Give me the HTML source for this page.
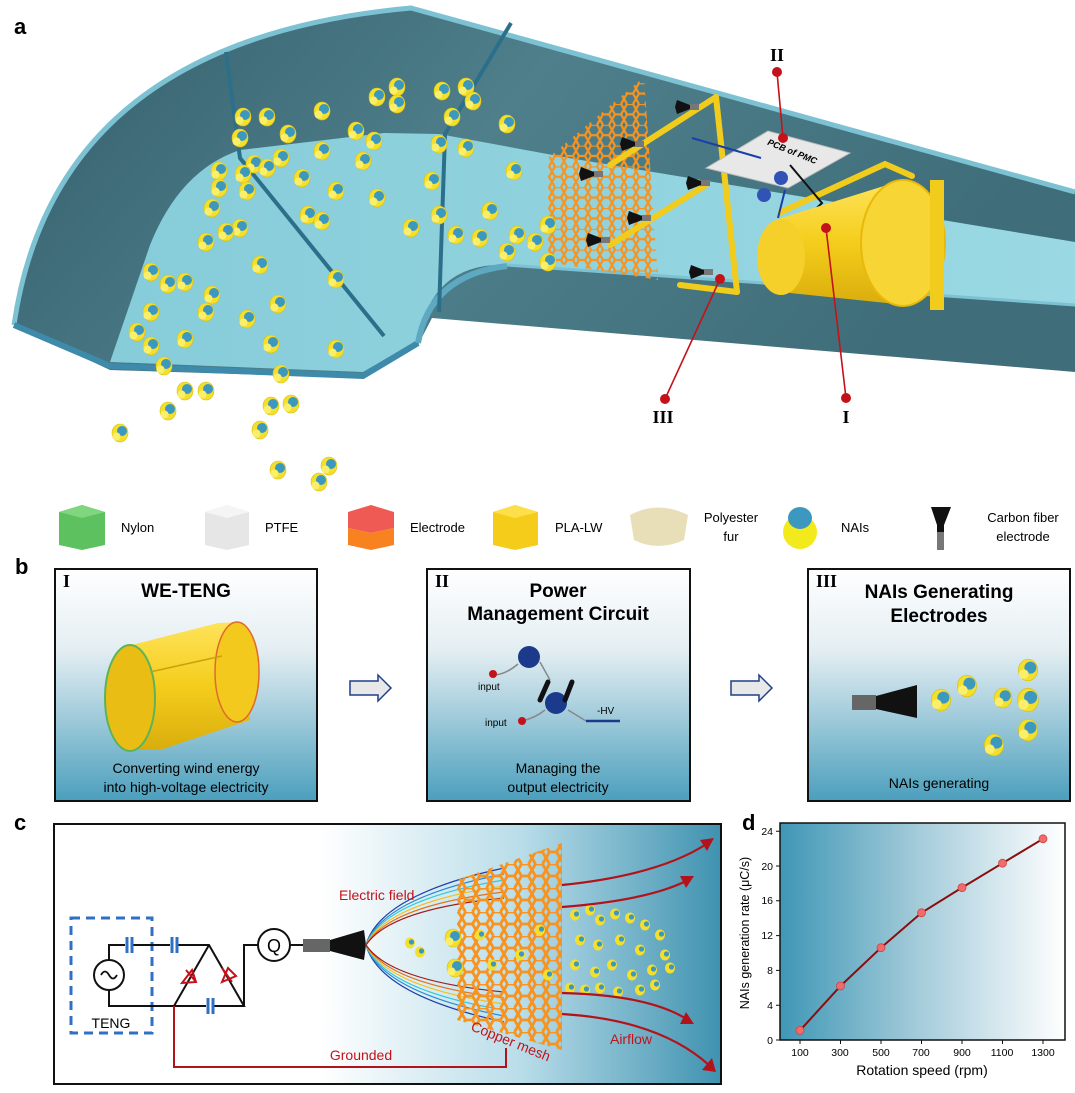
<!DOCTYPE html>
<html><head><meta charset="utf-8"><style>
html,body{margin:0;padding:0;background:#fff;}
svg{display:block;font-family:"Liberation Sans",Arial,sans-serif;}
</style></head><body>
<svg width="1075" height="1093" viewBox="0 0 1075 1093" xmlns="http://www.w3.org/2000/svg">
<defs>
<linearGradient id="wall" x1="0" y1="0" x2="1" y2="0.3"><stop offset="0" stop-color="#355f6c"/><stop offset="0.5" stop-color="#4e7f8b"/><stop offset="1" stop-color="#3f6e7a"/></linearGradient>
<linearGradient id="floor" x1="0" y1="0" x2="1" y2="0"><stop offset="0" stop-color="#86ccd9"/><stop offset="1" stop-color="#9ad9e3"/></linearGradient>
<linearGradient id="boxg" x1="0" y1="0" x2="0" y2="1"><stop offset="0" stop-color="#ffffff"/><stop offset="0.35" stop-color="#e4eef2"/><stop offset="1" stop-color="#4b9fbd"/></linearGradient>
<linearGradient id="cg" x1="0" y1="0" x2="1" y2="0"><stop offset="0" stop-color="#fff"/><stop offset="0.4" stop-color="#fff"/><stop offset="0.7" stop-color="#b9dde9"/><stop offset="1" stop-color="#3f92b0"/></linearGradient>
<linearGradient id="dg" x1="0" y1="0" x2="1" y2="0"><stop offset="0" stop-color="#3f97b6"/><stop offset="0.5" stop-color="#a7cddb"/><stop offset="1" stop-color="#ffffff"/></linearGradient>
<linearGradient id="cyl" x1="0" y1="0" x2="0" y2="1"><stop offset="0" stop-color="#ffe35a"/><stop offset="0.5" stop-color="#f4cd1c"/><stop offset="1" stop-color="#d9ad0c"/></linearGradient>
<pattern id="hex" width="12" height="20.8" patternUnits="userSpaceOnUse">
<path d="M3,0 L9,0 L12,5.2 L9,10.4 L3,10.4 L0,5.2 Z M9,10.4 L12,15.6 L9,20.8 M3,10.4 L0,15.6 L3,20.8" fill="none" stroke="#f7931e" stroke-width="2.2"/>
</pattern>
<pattern id="hex2" width="14" height="24" patternUnits="userSpaceOnUse">
<path d="M3.5,0 L10.5,0 L14,6 L10.5,12 L3.5,12 L0,6 Z M10.5,12 L14,18 L10.5,24 M3.5,12 L0,18 L3.5,24" fill="none" stroke="#f7931e" stroke-width="2.8"/>
</pattern>
<g id="p"><ellipse cx="0" cy="0" rx="8" ry="9" fill="#f3df2c" stroke="#d8c21a" stroke-width="0.6"/><circle cx="2" cy="-2" r="5" fill="#3d98bf"/><circle cx="-3.5" cy="3.5" r="4" fill="#fbef6a"/></g>
<g id="ps"><ellipse cx="0" cy="0" rx="5" ry="5.5" fill="#f3df2c"/><circle cx="1.5" cy="-1" r="2.6" fill="#3d98bf"/></g>
<g id="br"><rect x="4" y="-3" width="10" height="6" fill="#777"/><path d="M5,-2 L-8,-7 L-10,0 L-8,7 L5,2 Z" fill="#111"/></g>
</defs>

<!-- ===== Panel a ===== -->
<text x="14" y="34" font-size="22" font-weight="bold">a</text>
<path d="M14,325 Q55,40 411,8 L1075,192 L1075,372 L432,318 L418,345 L363,378 L110,370 Z" fill="url(#wall)"/>
<path d="M14,325 Q55,40 411,8 L1075,192" fill="none" stroke="#7cc2d2" stroke-width="5"/>
<path d="M110,362 L150,245 Q180,170 240,150 L384,133 L439,134 L569,158 L1075,242 L1075,305 L507,265 Q432,262 418,340 L363,372 Z" fill="url(#floor)"/>
<path d="M507,265 L1075,305" stroke="#7cc2d2" stroke-width="3"/>
<path d="M14,325 L110,366 L363,376 L418,343" fill="none" stroke="#3d8aaa" stroke-width="6"/>
<path d="M418,343 Q430,275 507,266" fill="none" stroke="#5ea9c2" stroke-width="6"/>
<g stroke="#2c6f8b" stroke-width="4" fill="none">
<path d="M226,52 L240,158 L384,336"/>
<path d="M511,23 L445,134 L439,312"/>
</g>
<polygon points="548,158 644,77 658,280 548,262" fill="url(#hex)"/>
<g stroke="#f2cc1d" stroke-width="6" fill="none" stroke-linecap="round">
<path d="M716,97 L737,292"/><path d="M716,97 L610,165"/><path d="M706,185 L610,245"/><path d="M737,292 L680,285"/>
<path d="M781,212 L885,164 L912,176"/>
</g>
<use href="#br" x="685" y="107"/><use href="#br" x="630" y="144"/><use href="#br" x="589" y="174"/>
<use href="#br" x="696" y="183"/><use href="#br" x="637" y="218"/><use href="#br" x="596" y="240"/><use href="#br" x="699" y="272"/>
<polygon points="706,168 768,131 850,153 788,188" fill="#e8e8e8" stroke="#bbb"/>
<text x="765" y="150" font-size="9" font-style="italic" font-weight="bold" transform="rotate(22 780 152)">PCB of PMC</text>
<path d="M692,138 L761,158" stroke="#1b3fa8" stroke-width="2"/>
<circle cx="781" cy="178" r="7" fill="#3153b5"/><circle cx="764" cy="195" r="7" fill="#3153b5"/>
<path d="M790,165 L822,203 L806,218" stroke="#111" stroke-width="2" fill="none"/>
<path d="M785,190 L778,218" stroke="#1b3fa8" stroke-width="2" fill="none"/>
<path d="M775,220 L900,181 L905,305 L790,293 Z" fill="url(#cyl)"/>
<ellipse cx="781" cy="257" rx="24" ry="38" fill="#f5d02a"/>
<ellipse cx="903" cy="243" rx="42" ry="63" fill="#f6d535" stroke="#e8b80a" stroke-width="2"/>
<rect x="930" y="180" width="14" height="130" fill="#f2cc1d"/>
<g stroke="#c4121a" stroke-width="1.6"><path d="M777,72 L783,138"/><path d="M665,399 L720,279"/><path d="M846,398 L826,228"/></g>
<g fill="#c4121a"><circle cx="777" cy="72" r="5"/><circle cx="783" cy="138" r="5"/><circle cx="665" cy="399" r="5"/><circle cx="720" cy="279" r="5"/><circle cx="846" cy="398" r="5"/><circle cx="826" cy="228" r="5"/></g>
<g font-family="Liberation Serif,serif" font-weight="bold" font-size="18" text-anchor="middle">
<text x="777" y="61">II</text><text x="663" y="423">III</text><text x="846" y="423">I</text></g>
<g>
<use href="#p" x="243" y="117"/><use href="#p" x="267" y="117"/><use href="#p" x="288" y="134"/><use href="#p" x="240" y="138"/><use href="#p" x="322" y="111"/><use href="#p" x="377" y="97"/><use href="#p" x="397" y="87"/><use href="#p" x="397" y="104"/><use href="#p" x="442" y="91"/><use href="#p" x="466" y="87"/><use href="#p" x="473" y="101"/><use href="#p" x="452" y="117"/><use href="#p" x="507" y="124"/><use href="#p" x="356" y="131"/><use href="#p" x="374" y="141"/><use href="#p" x="322" y="151"/><use href="#p" x="363" y="161"/><use href="#p" x="281" y="158"/><use href="#p" x="254" y="164"/><use href="#p" x="219" y="171"/><use href="#p" x="243" y="174"/><use href="#p" x="267" y="168"/><use href="#p" x="302" y="178"/><use href="#p" x="336" y="191"/><use href="#p" x="377" y="198"/><use href="#p" x="219" y="188"/><use href="#p" x="247" y="191"/><use href="#p" x="212" y="208"/><use href="#p" x="240" y="228"/><use href="#p" x="206" y="242"/><use href="#p" x="226" y="232"/><use href="#p" x="308" y="215"/><use href="#p" x="322" y="221"/><use href="#p" x="439" y="144"/><use href="#p" x="466" y="148"/><use href="#p" x="432" y="181"/><use href="#p" x="439" y="215"/><use href="#p" x="411" y="228"/><use href="#p" x="456" y="235"/><use href="#p" x="480" y="238"/><use href="#p" x="490" y="211"/><use href="#p" x="514" y="171"/><use href="#p" x="517" y="235"/><use href="#p" x="535" y="242"/><use href="#p" x="548" y="225"/><use href="#p" x="507" y="252"/><use href="#p" x="548" y="262"/><use href="#p" x="260" y="265"/><use href="#p" x="336" y="279"/><use href="#p" x="151" y="272"/><use href="#p" x="185" y="282"/><use href="#p" x="168" y="284"/><use href="#p" x="212" y="295"/><use href="#p" x="278" y="304"/><use href="#p" x="151" y="312"/><use href="#p" x="206" y="312"/><use href="#p" x="247" y="319"/><use href="#p" x="137" y="332"/><use href="#p" x="185" y="339"/><use href="#p" x="151" y="346"/><use href="#p" x="271" y="344"/><use href="#p" x="336" y="349"/><use href="#p" x="164" y="366"/><use href="#p" x="281" y="374"/><use href="#p" x="185" y="391"/><use href="#p" x="206" y="391"/><use href="#p" x="168" y="411"/><use href="#p" x="120" y="433"/><use href="#p" x="271" y="406"/><use href="#p" x="291" y="404"/><use href="#p" x="260" y="430"/><use href="#p" x="278" y="470"/><use href="#p" x="329" y="466"/><use href="#p" x="319" y="482"/>
</g>

<!-- ===== Legend ===== -->
<g font-size="13">
<polygon points="59,512 82,505 105,512 105,545 82,550 59,545" fill="#5dc160"/><polygon points="59,512 82,518 105,512 82,505" fill="#7fd67f"/>
<text x="121" y="532">Nylon</text>
<polygon points="205,512 227,505 249,512 249,545 227,550 205,545" fill="#e6e6e6"/><polygon points="205,512 227,518 249,512 227,505" fill="#f5f5f5"/>
<text x="265" y="532">PTFE</text>
<polygon points="348,512 371,505 394,512 394,528 371,533 348,528" fill="#ef5a55"/><polygon points="348,528 371,533 394,528 394,545 371,550 348,545" fill="#f7821f"/>
<text x="410" y="532">Electrode</text>
<polygon points="493,512 515,505 538,512 538,545 515,550 493,545" fill="#f5cc1a"/><polygon points="493,512 515,518 538,512 515,505" fill="#fde049"/>
<text x="555" y="532">PLA-LW</text>
<path d="M630,515 Q658,500 688,515 L684,540 Q658,552 634,540 Z" fill="#e8dfb8"/>
<text x="731" y="522" text-anchor="middle">Polyester</text><text x="731" y="541" text-anchor="middle">fur</text>
<ellipse cx="800" cy="532" rx="17" ry="17" fill="#f3ea1e"/><ellipse cx="800" cy="518" rx="12" ry="11" fill="#3d98bf"/>
<text x="841" y="532">NAIs</text>
<path d="M931,507 L951,507 L944,525 L944,532 L937,532 L937,525 Z" fill="#111"/><rect x="937" y="532" width="7" height="18" fill="#777"/>
<text x="1023" y="522" text-anchor="middle">Carbon fiber</text><text x="1023" y="541" text-anchor="middle">electrode</text>
</g>

<!-- ===== Panel b ===== -->
<text x="15" y="574" font-size="22" font-weight="bold">b</text>
<rect x="55" y="569" width="262" height="232" fill="url(#boxg)" stroke="#111" stroke-width="2"/>
<rect x="427" y="569" width="263" height="232" fill="url(#boxg)" stroke="#111" stroke-width="2"/>
<rect x="808" y="569" width="262" height="232" fill="url(#boxg)" stroke="#111" stroke-width="2"/>
<g font-family="Liberation Serif,serif" font-weight="bold" font-size="18"><text x="63" y="587">I</text><text x="435" y="587">II</text><text x="816" y="587">III</text></g>
<g font-weight="bold" font-size="19" text-anchor="middle">
<text x="186" y="597">WE-TENG</text>
<text x="558" y="597">Power</text><text x="558" y="620">Management Circuit</text>
<text x="939" y="598">NAIs Generating</text><text x="939" y="622">Electrodes</text></g>
<g font-size="14" text-anchor="middle">
<text x="186" y="773">Converting wind energy</text><text x="186" y="792">into high-voltage electricity</text>
<text x="558" y="773">Managing the</text><text x="558" y="792">output electricity</text>
<text x="939" y="788">NAIs generating</text></g>
<path d="M128,646 L218,623 L240,622 L250,720 L160,750 L128,750 Z" fill="url(#cyl)"/>
<ellipse cx="237" cy="672" rx="22" ry="50" fill="#f3c91e" stroke="#e06a2c" stroke-width="1.5"/>
<ellipse cx="130" cy="698" rx="25" ry="53" fill="#e9bd14" stroke="#5db35a" stroke-width="2"/>
<path d="M150,672 L222,656" stroke="#c9a10a" stroke-width="1.5"/>
<path d="M350,681 L378,681 L378,675 L391,688 L378,701 L378,695 L350,695 Z" fill="#e8e8e8" stroke="#1f3f8a" stroke-width="1.5"/>
<path d="M731,681 L759,681 L759,675 L772,688 L759,701 L759,695 L731,695 Z" fill="#e8e8e8" stroke="#1f3f8a" stroke-width="1.5"/>
<circle cx="529" cy="657" r="11" fill="#1c3a8c"/><circle cx="556" cy="703" r="11" fill="#1c3a8c"/>
<path d="M493,675 Q505,675 518,664 M540,662 L550,680 M522,721 Q535,718 545,710 M568,710 L586,721" stroke="#888" stroke-width="1.5" fill="none"/>
<path d="M540,700 L548,682 M565,700 L572,682" stroke="#111" stroke-width="5" stroke-linecap="round"/>
<circle cx="493" cy="674" r="4" fill="#c4121a"/><circle cx="522" cy="721" r="4" fill="#c4121a"/>
<path d="M586,721 L620,721" stroke="#1c3a8c" stroke-width="2.5"/>
<g font-size="10"><text x="478" y="690">input</text><text x="485" y="726">input</text><text x="597" y="714">-HV</text></g>
<rect x="852" y="695" width="24" height="15" fill="#666"/><path d="M876,696 L917,685 L917,718 L876,709 Z" fill="#111"/>
<g transform="translate(967,686) scale(1.2)"><use href="#p"/></g>
<g transform="translate(941,700) scale(1.2)"><use href="#p"/></g>
<g transform="translate(1003,698) scale(1.1)"><use href="#p"/></g>
<g transform="translate(1028,670) scale(1.2)"><use href="#p"/></g>
<g transform="translate(1028,700) scale(1.3)"><use href="#p"/></g>
<g transform="translate(1028,730) scale(1.2)"><use href="#p"/></g>
<g transform="translate(994,745) scale(1.2)"><use href="#p"/></g>

<!-- ===== Panel c ===== -->
<text x="14" y="830" font-size="22" font-weight="bold">c</text>
<rect x="54" y="824" width="667" height="260" fill="url(#cg)" stroke="#111" stroke-width="2"/>
<rect x="71" y="918" width="81" height="115" fill="none" stroke="#2f70c4" stroke-width="3" stroke-dasharray="9,6"/>
<text x="111" y="1028" font-size="14" text-anchor="middle">TENG</text>
<g stroke="#111" stroke-width="2" fill="none">
<path d="M109,960 L109,945 L125,945 M133,945 L170,945 M178,945 L209,945 L244,1006 L214,1006 M206,1006 L174,1006 L209,945"/>
<path d="M109,990 L109,1006 L174,1006"/>
<path d="M244,1006 L244,945 L258,945 M290,945 L303,945"/>
<circle cx="109" cy="975" r="15"/><circle cx="274" cy="945" r="16"/>
</g>
<path d="M101,975 Q105,968 109,975 Q113,982 117,975" stroke="#111" stroke-width="1.8" fill="none"/>
<text x="274" y="952" font-size="18" text-anchor="middle">Q</text>
<g stroke="#2f70c4" stroke-width="3"><path d="M127,937 L127,953 M132,937 L132,953 M172,937 L172,953 M177,937 L177,953 M208,998 L208,1014 M213,998 L213,1014"/></g>
<g stroke="#c4121a" stroke-width="2" fill="none"><path d="M186,970 L196,982 M182,983 L192,970 L196,982 Z"/><path d="M222,968 L232,982 M222,982 L228,968 L236,976 Z"/></g>
<rect x="303" y="939" width="27" height="13" fill="#666"/><path d="M330,940 L364,930 L366,945 L364,960 L330,951 Z" fill="#111"/>
<g fill="none" stroke-width="1.2">
<path d="M366,945 Q380,895 504,868" stroke="#1b3fa8"/><path d="M366,945 Q382,898 504,874" stroke="#2a8ad8"/><path d="M366,945 Q384,900 504,880" stroke="#35c8d8"/><path d="M366,945 Q386,903 504,886" stroke="#f0c020"/><path d="M366,945 Q388,906 504,892" stroke="#e0731c"/><path d="M366,945 Q390,909 504,898" stroke="#a01d1d"/>
<path d="M366,945 Q380,995 504,1022" stroke="#1b3fa8"/><path d="M366,945 Q382,992 504,1016" stroke="#2a8ad8"/><path d="M366,945 Q384,990 504,1010" stroke="#35c8d8"/><path d="M366,945 Q386,987 504,1004" stroke="#f0c020"/><path d="M366,945 Q388,984 504,998" stroke="#e0731c"/><path d="M366,945 Q390,981 504,992" stroke="#a01d1d"/>
</g>
<text x="339" y="900" font-size="14" fill="#c4121a">Electric field</text>
<polygon points="457,880 562,843 562,1050 457,1020" fill="url(#hex2)"/>
<g>
<use href="#ps" x="410" y="943"/><use href="#ps" x="420" y="952"/><use href="#p" x="453" y="938"/><use href="#p" x="455" y="968"/><use href="#ps" x="480" y="935"/><use href="#ps" x="492" y="965"/><use href="#ps" x="520" y="955"/><use href="#ps" x="540" y="930"/><use href="#ps" x="548" y="975"/>
<use href="#ps" x="575" y="915"/><use href="#ps" x="590" y="910"/><use href="#ps" x="600" y="920"/><use href="#ps" x="615" y="914"/><use href="#ps" x="630" y="918"/><use href="#ps" x="645" y="925"/><use href="#ps" x="660" y="935"/><use href="#ps" x="580" y="940"/><use href="#ps" x="598" y="945"/><use href="#ps" x="620" y="940"/><use href="#ps" x="640" y="950"/><use href="#ps" x="665" y="955"/><use href="#ps" x="575" y="965"/><use href="#ps" x="595" y="972"/><use href="#ps" x="612" y="965"/><use href="#ps" x="632" y="975"/><use href="#ps" x="652" y="970"/><use href="#ps" x="670" y="968"/><use href="#ps" x="570" y="988"/><use href="#ps" x="585" y="990"/><use href="#ps" x="600" y="988"/><use href="#ps" x="618" y="992"/><use href="#ps" x="640" y="990"/><use href="#ps" x="655" y="985"/>
</g>
<g stroke="#b4121a" stroke-width="2.2" fill="none">
<path d="M562,885 Q660,875 708,843"/><path d="M562,907 Q650,900 688,880"/><path d="M562,993 Q650,995 688,1020"/><path d="M562,1014 Q660,1020 710,1066"/>
</g>
<g fill="#b4121a"><polygon points="714,838 700,840 707,851"/><polygon points="694,876 680,876 686,888"/><polygon points="694,1024 680,1024 686,1012"/><polygon points="716,1072 702,1070 712,1058"/></g>
<text x="631" y="1044" font-size="14" fill="#c4121a" text-anchor="middle">Airflow</text>
<text x="470" y="1030" font-size="14" fill="#c4121a" transform="rotate(22 470 1030)">Copper mesh</text>
<path d="M174,1006 L174,1067 L506,1067 L506,1048" stroke="#b4121a" stroke-width="2" fill="none"/>
<text x="361" y="1060" font-size="14" fill="#c4121a" text-anchor="middle">Grounded</text>

<!-- ===== Panel d ===== -->
<text x="742" y="830" font-size="22" font-weight="bold">d</text>
<rect x="780" y="823" width="285" height="217" fill="url(#dg)" stroke="#111" stroke-width="1.5"/>
<g stroke="#111" stroke-width="1">
<path d="M780,1040 l-4,0 M780,1005.2 l-4,0 M780,970.4 l-4,0 M780,935.6 l-4,0 M780,900.8 l-4,0 M780,866 l-4,0 M780,831.2 l-4,0"/>
<path d="M800,1040 l0,4 M840.5,1040 l0,4 M881,1040 l0,4 M921.5,1040 l0,4 M962,1040 l0,4 M1002.5,1040 l0,4 M1043,1040 l0,4"/>
</g>
<g font-size="10.5" text-anchor="end"><text x="773" y="1044">0</text><text x="773" y="1009">4</text><text x="773" y="974">8</text><text x="773" y="939">12</text><text x="773" y="904">16</text><text x="773" y="870">20</text><text x="773" y="835">24</text></g>
<g font-size="10.5" text-anchor="middle"><text x="800" y="1056">100</text><text x="840" y="1056">300</text><text x="881" y="1056">500</text><text x="921" y="1056">700</text><text x="962" y="1056">900</text><text x="1002" y="1056">1100</text><text x="1043" y="1056">1300</text></g>
<text x="922" y="1075" font-size="14" text-anchor="middle">Rotation speed (rpm)</text>
<text x="0" y="0" font-size="12.5" text-anchor="middle" transform="translate(749,933) rotate(-90)">NAIs generation rate (μC/s)</text>
<polyline points="800,1030.4 840.5,986 881,947.7 921.5,912.8 962,887.6 1002.5,863.2 1043,838.8" fill="none" stroke="#8b0d0d" stroke-width="2"/>
<g fill="#f26b6b" stroke="#c94444" stroke-width="0.8"><circle cx="800" cy="1030.4" r="4"/><circle cx="840.5" cy="986" r="4"/><circle cx="881" cy="947.7" r="4"/><circle cx="921.5" cy="912.8" r="4"/><circle cx="962" cy="887.6" r="4"/><circle cx="1002.5" cy="863.2" r="4"/><circle cx="1043" cy="838.8" r="4"/></g>
</svg>
</body></html>
